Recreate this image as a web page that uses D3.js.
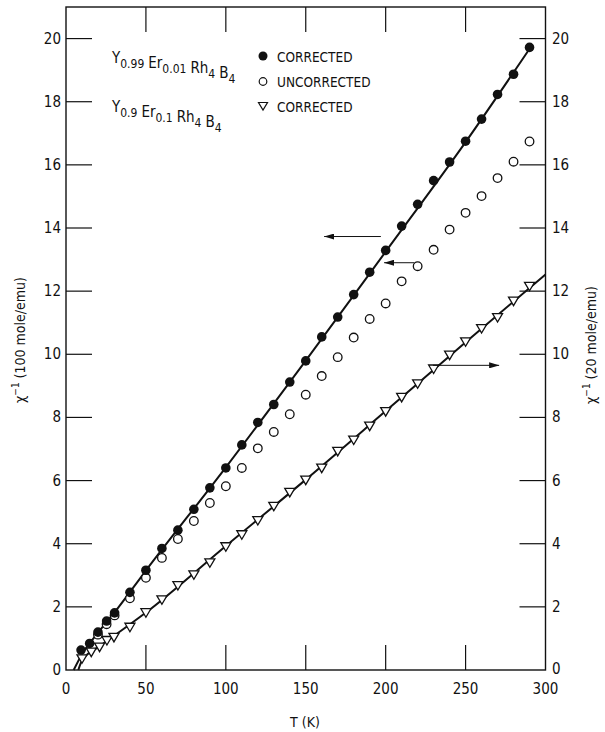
<!DOCTYPE html>
<html>
<head>
<meta charset="utf-8">
<title></title>
<style>
	body { margin: 0; background: #fff; }
	text { font-family: "DejaVu Sans Condensed", "Liberation Sans Narrow", sans-serif; fill: #111; }
</style>
</head>
<body>
	<svg id="chart" width="605" height="732"></svg>
<script src="https://d3js.org/d3.v7.min.js"></script>
<script>
	// Y0.99 Er0.01 Rh4 B4, corrected (filled circles)
	let filledT = [9.4, 14.8, 20, 25.4, 30.4, 40, 50, 60, 70, 80, 90, 100, 110, 120, 130, 140, 150,
		160, 170, 180, 190, 200, 210, 220, 230, 240, 250, 260, 270, 280, 290]
	let filledChi = [0.63, 0.84, 1.2, 1.55, 1.81, 2.46, 3.16, 3.85, 4.43, 5.09, 5.77, 6.4, 7.13, 7.84, 8.41, 9.12, 9.79,
		10.55, 11.18, 11.89, 12.6, 13.29, 14.06, 14.75, 15.5, 16.09, 16.75, 17.45, 18.23, 18.87, 19.72]

	// Y0.99 Er0.01 Rh4 B4, uncorrected (open circles)
	let openT = [20, 25.4, 30.4, 40, 50, 60, 70, 80, 90, 100, 110, 120, 130, 140, 150, 160, 170,
		180, 190, 200, 210, 220, 230, 240, 250, 260, 270, 280, 290]
	let openChi = [1.12, 1.45, 1.73, 2.27, 2.92, 3.55, 4.15, 4.72, 5.29, 5.82, 6.4, 7.02, 7.54, 8.1, 8.72, 9.31, 9.91,
		10.53, 11.12, 11.61, 12.31, 12.79, 13.31, 13.95, 14.48, 15.01, 15.58, 16.1, 16.74]

	// Y0.9 Er0.1 Rh4 B4, corrected (triangles, right axis)
	let triT = [10, 15.8, 21, 25.6, 30, 40, 50, 60, 70, 80, 90, 100, 110, 120, 130, 140, 150,
		160, 170, 180, 190, 200, 210, 220, 230, 240, 250, 260, 270, 280, 290]
	let triChi = [0.37, 0.58, 0.74, 0.95, 1.05, 1.37, 1.83, 2.24, 2.69, 3.03, 3.41, 3.92, 4.3, 4.75, 5.2, 5.64, 6.03,
		6.41, 6.94, 7.3, 7.74, 8.2, 8.65, 9.08, 9.55, 9.99, 10.41, 10.83, 11.18, 11.7, 12.17]

	// drawn curves
	let fitFilledT = [4.8, 10, 20, 30, 50, 100, 150, 200, 250, 291]
	let fitFilledChi = [0, 0.5, 1.18, 1.8, 3.15, 6.42, 9.8, 13.25, 16.72, 19.75]
	let fitTriT = [7.7, 10, 20, 30, 50, 100, 150, 200, 250, 300]
	let fitTriChi = [0, 0.3, 0.72, 1.08, 1.82, 3.93, 6.03, 8.2, 10.38, 12.53]

	let xTicks = [0, 50, 100, 150, 200, 250, 300]
	let yTicks = [0, 2, 4, 6, 8, 10, 12, 14, 16, 18, 20]

	let svg = d3.select("#chart")

	let x = d3.scaleLinear().domain([0, 300]).range([66, 545.5])
	let y = d3.scaleLinear().domain([0, 21]).range([670, 7])

	let frame = svg.append("g")

	// frame
	frame.append("rect")
		.attr("x", x(0)).attr("y", y(21))
		.attr("width", x(300) - x(0)).attr("height", y(0) - y(21))
		.attr("fill", "none").attr("stroke", "#111").attr("stroke-width", 1.4)

	// inward ticks
	let tickLen = 25
	let innerX = xTicks.filter(d => d > 0 && d < 300)
	let innerY = yTicks.filter(d => d > 0)
	frame.selectAll(".xb").data(innerX).enter().append("line")
		.attr("x1", d => x(d)).attr("x2", d => x(d))
		.attr("y1", y(0)).attr("y2", y(0) - tickLen)
		.attr("stroke", "#111").attr("stroke-width", 1.2)
	frame.selectAll(".xt").data(innerX).enter().append("line")
		.attr("x1", d => x(d)).attr("x2", d => x(d))
		.attr("y1", y(21)).attr("y2", y(21) + tickLen)
		.attr("stroke", "#111").attr("stroke-width", 1.2)
	frame.selectAll(".yl").data(innerY).enter().append("line")
		.attr("x1", x(0)).attr("x2", x(0) + 26)
		.attr("y1", d => y(d)).attr("y2", d => y(d))
		.attr("stroke", "#111").attr("stroke-width", 1.2)
	frame.selectAll(".yr").data(innerY).enter().append("line")
		.attr("x1", x(300)).attr("x2", x(300) - 26)
		.attr("y1", d => y(d)).attr("y2", d => y(d))
		.attr("stroke", "#111").attr("stroke-width", 1.2)

	// tick labels
	frame.selectAll(".xl").data(xTicks).enter().append("text")
		.attr("x", d => x(d)).attr("y", 694)
		.attr("text-anchor", "middle").attr("font-size", 15)
		.text(d => d)
	frame.selectAll(".ylab").data(yTicks).enter().append("text")
		.attr("x", 61).attr("y", d => y(d) + 5)
		.attr("text-anchor", "end").attr("font-size", 15)
		.text(d => d)
	frame.selectAll(".yrlab").data(yTicks).enter().append("text")
		.attr("x", 552).attr("y", d => y(d) + (d == 0 ? 4 : 5))
		.attr("text-anchor", "start").attr("font-size", 15)
		.text(d => d)

	// axis titles
	svg.append("text")
		.attr("x", 305).attr("y", 727)
		.attr("text-anchor", "middle").attr("font-size", 14)
		.text("T (K)")

	function chiTitle(tx, ty, units) {
		let t = svg.append("text")
			.attr("transform", `translate(${tx},${ty}) rotate(-90)`)
			.attr("text-anchor", "middle").attr("font-size", 14)
		t.append("tspan").text("χ")
		t.append("tspan").attr("dy", -6).attr("font-size", 10).text("−1")
		t.append("tspan").attr("dy", 6).text(" (" + units + " mole/emu)")
	}
	chiTitle(25, 340, "100")
	chiTitle(596, 345, "20")

	// curves
	let line = d3.line().x(d => x(d[0])).y(d => y(d[1])).curve(d3.curveMonotoneX)
	svg.append("path")
		.attr("d", line(d3.zip(fitFilledT, fitFilledChi)))
		.attr("fill", "none").attr("stroke", "#111").attr("stroke-width", 2)
	svg.append("path")
		.attr("d", line(d3.zip(fitTriT, fitTriChi)))
		.attr("fill", "none").attr("stroke", "#111").attr("stroke-width", 2)

	// markers
	let triPath = "M-5,-3.5L5,-3.5L0,5Z"

	svg.append("g").selectAll("circle")
		.data(d3.zip(openT, openChi)).enter().append("circle")
		.attr("cx", d => x(d[0])).attr("cy", d => y(d[1])).attr("r", 4.3)
		.attr("fill", "#fff").attr("stroke", "#111").attr("stroke-width", 1.3)

	svg.append("g").selectAll("circle")
		.data(d3.zip(filledT, filledChi)).enter().append("circle")
		.attr("cx", d => x(d[0])).attr("cy", d => y(d[1])).attr("r", 4.8)
		.attr("fill", "#111")

	svg.append("g").selectAll("path")
		.data(d3.zip(triT, triChi)).enter().append("path")
		.attr("transform", d => `translate(${x(d[0])},${y(d[1])})`)
		.attr("d", triPath)
		.attr("fill", "#fff").attr("stroke", "#111").attr("stroke-width", 1.3)

	// arrows pointing to the axis each set belongs to
	let arrows = [[197, 161.5, 13.73], [218, 199, 12.9], [229.6, 271, 9.65]]
	svg.append("defs").append("marker")
		.attr("id", "head").attr("viewBox", "0 0 10 6")
		.attr("refX", 10).attr("refY", 3)
		.attr("markerWidth", 10).attr("markerHeight", 6)
		.attr("markerUnits", "userSpaceOnUse").attr("orient", "auto")
		.append("path").attr("d", "M0,0L10,3L0,6Z").attr("fill", "#111")
	svg.append("g").selectAll("line")
		.data(arrows).enter().append("line")
		.attr("x1", d => x(d[0])).attr("x2", d => x(d[1]))
		.attr("y1", d => y(d[2])).attr("y2", d => y(d[2]))
		.attr("stroke", "#111").attr("stroke-width", 1)
		.attr("marker-end", "url(#head)")

	// compound labels
	function formula(tx, ty, parts) {
		let t = svg.append("text").attr("x", tx).attr("y", ty).attr("font-size", 15)
		parts.forEach((p, i) => {
			t.append("tspan").attr("dx", i == 0 ? 0 : 4).text(p[0])
			t.append("tspan").attr("dy", 5).attr("font-size", 12).text(p[1])
			t.append("tspan").attr("dy", -5).text("")
		})
	}
	formula(112, 63, [["Y", "0.99"], ["Er", "0.01"], ["Rh", "4"], ["B", "4"]])
	formula(112, 112, [["Y", "0.9"], ["Er", "0.1"], ["Rh", "4"], ["B", "4"]])

	// legend
	let legendLabels = ["CORRECTED", "UNCORRECTED", "CORRECTED"]
	let legend = svg.append("g")
	legend.selectAll("text").data(legendLabels).enter().append("text")
		.attr("x", 277).attr("y", (d, i) => 62 + i * 25)
		.attr("font-size", 13.5).text(d => d)
	legend.append("circle").attr("cx", 263).attr("cy", 56).attr("r", 4.5).attr("fill", "#111")
	legend.append("circle").attr("cx", 263).attr("cy", 81.5).attr("r", 3.8)
		.attr("fill", "#fff").attr("stroke", "#111").attr("stroke-width", 1.2)
	legend.append("path").attr("transform", "translate(263,106)").attr("d", "M-4.5,-3.5L4.5,-3.5L0,4Z")
		.attr("fill", "#fff").attr("stroke", "#111").attr("stroke-width", 1.2)
</script>
</body>
</html>
